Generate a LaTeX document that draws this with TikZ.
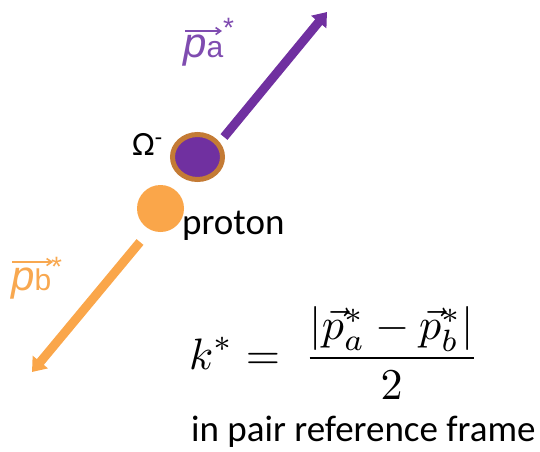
\documentclass[tikz,border=0pt]{standalone}
\usepackage{fontspec}
\setmainfont{Carlito}
\newfontfamily\labfont{Liberation Sans}
\usetikzlibrary{arrows.meta,shapes.geometric}
\definecolor{mypurple}{HTML}{7030A0}
\definecolor{myorange}{HTML}{FAA64A}
\definecolor{mybrown}{HTML}{C47B35}
\definecolor{labpurple}{HTML}{7F4CB0}
\definecolor{laborange}{HTML}{F8A850}
\begin{document}
\begin{tikzpicture}[x=1pt,y=-1pt,
  momarrow/.style={line width=9pt,-{Triangle[width=19pt,length=13pt]}},
  bigtext/.style={font=\fontsize{37}{44}\selectfont, inner sep=0pt},
  plabel/.style={font=\labfont\fontsize{42}{50}\selectfont, inner sep=0pt, anchor=base west},
  overarrow/.style={line width=1.6pt, -{Straight Barb[length=5pt,width=7pt]}}]
\useasboundingbox (0,0) rectangle (540,451);
% particles
\node[ellipse, draw=mybrown, line width=5pt, fill=mypurple, minimum width=50pt, minimum height=45pt, inner sep=0pt] (omega) at (197.5,157) {};
\node[circle, fill=myorange, minimum size=47pt, inner sep=0pt] (proton) at (160.5,208.5) {};
% momentum arrows
\coordinate (astart) at (224,137);
\coordinate (atip) at (327,12);
\coordinate (bstart) at (140,242);
\coordinate (btip) at (32,372);
\draw[momarrow, mypurple] (astart) -- (atip);
\draw[momarrow, myorange] (bstart) -- (btip);
% labels
\node[bigtext, font=\fontsize{34}{40}\selectfont, anchor=base west] (omlab) at (132,155) {Ω\textsuperscript{-}};
\node[bigtext, anchor=base west] (protlab) at (182,234) {proton};
\node[plabel, text=labpurple] (palab) at (183,57)
  {\itshape p\fontsize{30}{34}\selectfont\upshape a\raisebox{20pt}{\fontsize{28}{32}\selectfont *}};
\draw[overarrow, labpurple] (185,31) -- (222,31);
\node[plabel, text=laborange] (pblab) at (11,290)
  {\itshape p\fontsize{30}{34}\selectfont\upshape b\raisebox{14pt}{\fontsize{28}{32}\selectfont *}};
\draw[overarrow, laborange] (12,262) -- (53,262);
\node[inner sep=0pt] (formula) at (334,353)
  {\scalebox{4.4}{$\displaystyle k^* = \;\frac{|\vec{p}^{*}_a - \vec{p}^{*}_b|}{2}$}};
\node[bigtext, anchor=base west] (frame) at (191,441) {in pair reference frame};
\end{tikzpicture}
\end{document}
